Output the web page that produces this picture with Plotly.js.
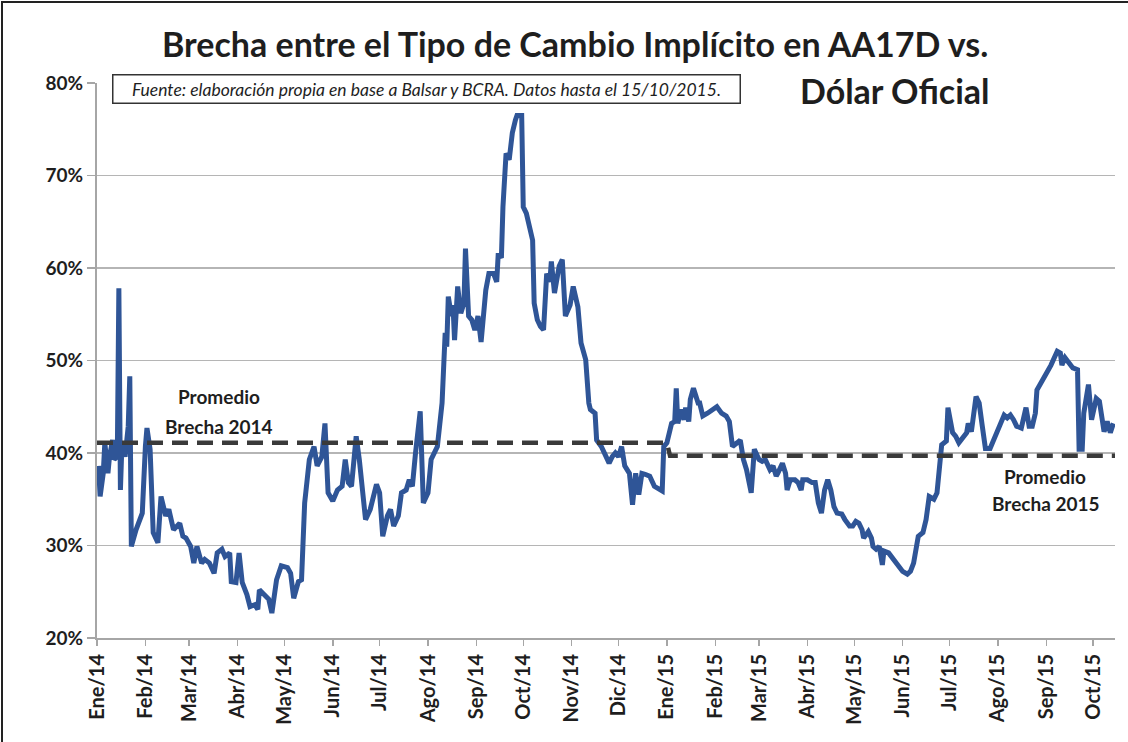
<!DOCTYPE html>
<html>
<head>
<meta charset="utf-8">
<script src="https://cdn.plot.ly/plotly-3.0.1.min.js"></script>
<style>
  html, body { margin: 0; padding: 0; background: #fff; }
  #wrap { position: relative; width: 1128px; height: 742px; }
  #chart { width: 1128px; height: 742px; }
  #frame { position: absolute; left: 1px; top: 1px; width: 1127px; height: 741px;
           border-left: 2px solid #222; border-top: 2px solid #222; box-sizing: border-box; pointer-events: none; }
</style>
</head>
<body>
<div id="wrap"><div id="chart"></div><div id="frame"></div></div>
<script>
// ---- Data ----
const fechas = [
"2014-01-02","2014-01-03","2014-01-05","2014-01-06","2014-01-08","2014-01-09","2014-01-11","2014-01-12","2014-01-14","2014-01-15",
"2014-01-16","2014-01-17","2014-01-19","2014-01-21","2014-01-22","2014-01-23","2014-01-26","2014-01-30","2014-02-01","2014-02-02",
"2014-02-04","2014-02-06","2014-02-09","2014-02-11","2014-02-14","2014-02-16","2014-02-19","2014-02-21","2014-02-23","2014-02-25",
"2014-02-27","2014-03-02","2014-03-04","2014-03-06","2014-03-09","2014-03-11","2014-03-14","2014-03-17","2014-03-19","2014-03-22",
"2014-03-24","2014-03-27","2014-03-28","2014-03-31","2014-04-02","2014-04-04","2014-04-07","2014-04-09","2014-04-12","2014-04-14",
"2014-04-15","2014-04-18","2014-04-21","2014-04-23","2014-04-26","2014-04-29","2014-05-03","2014-05-05","2014-05-07","2014-05-10",
"2014-05-12","2014-05-14","2014-05-17","2014-05-20","2014-05-22","2014-05-25","2014-05-27","2014-05-29","2014-06-01","2014-06-04",
"2014-06-07","2014-06-09","2014-06-11","2014-06-13","2014-06-16","2014-06-18","2014-06-22","2014-06-25","2014-06-29","2014-07-01",
"2014-07-03","2014-07-06","2014-07-08","2014-07-10","2014-07-13","2014-07-15","2014-07-18","2014-07-20","2014-07-22","2014-07-24",
"2014-07-27","2014-07-29","2014-08-01","2014-08-03","2014-08-07","2014-08-10","2014-08-12","2014-08-13","2014-08-14","2014-08-16",
"2014-08-17","2014-08-18","2014-08-20","2014-08-22","2014-08-24","2014-08-25","2014-08-27","2014-08-29","2014-08-31","2014-09-02",
"2014-09-04","2014-09-07","2014-09-09","2014-09-12","2014-09-14","2014-09-15","2014-09-17","2014-09-18","2014-09-20","2014-09-22",
"2014-09-24","2014-09-26","2014-09-27","2014-09-30","2014-10-01","2014-10-03","2014-10-07","2014-10-08","2014-10-10","2014-10-12",
"2014-10-14","2014-10-16","2014-10-18","2014-10-19","2014-10-21","2014-10-24","2014-10-26","2014-10-28","2014-10-31","2014-11-02",
"2014-11-05","2014-11-07","2014-11-10","2014-11-12","2014-11-13","2014-11-16","2014-11-17","2014-11-20","2014-11-22","2014-11-25",
"2014-11-27","2014-11-29","2014-12-01","2014-12-03","2014-12-05","2014-12-08","2014-12-10","2014-12-12","2014-12-14","2014-12-16",
"2014-12-18","2014-12-21","2014-12-24","2014-12-27","2014-12-29","2014-12-30","2015-01-01","2015-01-03","2015-01-04","2015-01-06",
"2015-01-07","2015-01-08","2015-01-10","2015-01-12","2015-01-13","2015-01-15","2015-01-16","2015-01-18","2015-01-21","2015-01-22",
"2015-01-24","2015-01-27","2015-01-30","2015-02-02","2015-02-05","2015-02-08","2015-02-10","2015-02-12","2015-02-15","2015-02-17",
"2015-02-19","2015-02-21","2015-02-24","2015-02-26","2015-03-01","2015-03-03","2015-03-05","2015-03-08","2015-03-10","2015-03-12",
"2015-03-13","2015-03-16","2015-03-18","2015-03-19","2015-03-21","2015-03-24","2015-03-26","2015-03-28","2015-03-29","2015-04-01",
"2015-04-04","2015-04-06","2015-04-08","2015-04-10","2015-04-12","2015-04-14","2015-04-16","2015-04-18","2015-04-20","2015-04-23",
"2015-04-25","2015-04-28","2015-04-30","2015-05-02","2015-05-04","2015-05-06","2015-05-07","2015-05-10","2015-05-12","2015-05-13",
"2015-05-15","2015-05-17","2015-05-19","2015-05-20","2015-05-23","2015-05-26","2015-05-29","2015-06-01","2015-06-04","2015-06-06",
"2015-06-08","2015-06-11","2015-06-14","2015-06-16","2015-06-18","2015-06-21","2015-06-23","2015-06-25","2015-06-26","2015-06-29",
"2015-06-30","2015-07-03","2015-07-05","2015-07-07","2015-07-10","2015-07-12","2015-07-13","2015-07-15","2015-07-18","2015-07-20",
"2015-07-22","2015-07-24","2015-07-27","2015-07-30","2015-08-02","2015-08-05","2015-08-07","2015-08-09","2015-08-11","2015-08-13",
"2015-08-16","2015-08-19","2015-08-21","2015-08-23","2015-08-25","2015-08-26","2015-08-28","2015-08-30","2015-09-01","2015-09-04",
"2015-09-06","2015-09-08","2015-09-10","2015-09-11","2015-09-13","2015-09-16","2015-09-18","2015-09-21","2015-09-22","2015-09-24",
"2015-09-25","2015-09-28","2015-09-30","2015-10-03","2015-10-05","2015-10-08","2015-10-10","2015-10-12","2015-10-14"
];
const brecha = [
38.6,35.3,37.8,41.1,37.8,39.6,41.4,39.3,39.6,57.8,
36.0,41.1,39.6,42.9,48.3,29.9,31.7,33.5,40.7,42.7,
40.4,31.4,30.3,35.3,33.2,33.9,31.7,32.1,32.4,31.0,
30.8,29.9,28.1,29.9,28.1,28.5,28.1,27.0,29.2,29.6,
28.8,29.2,26.1,26.0,29.2,26.0,24.7,23.4,23.6,23.1,
25.2,24.7,24.2,22.7,26.3,27.8,27.6,27.0,24.3,26.1,
26.3,34.6,39.3,40.7,38.6,39.6,43.2,35.7,34.8,36.0,
36.4,39.3,36.8,36.4,41.8,39.3,32.8,33.9,36.6,35.7,
31.0,33.2,33.9,32.1,33.2,35.7,36.0,37.1,36.4,40.0,
44.5,34.6,35.7,39.3,40.7,45.4,53.0,51.5,56.9,54.8,
56.0,52.2,58.0,55.1,56.2,62.1,54.8,54.4,53.3,54.8,
52.0,57.6,59.4,59.4,58.5,61.6,61.1,66.6,72.4,71.7,
74.6,76.0,76.5,76.5,66.6,65.9,63.0,56.2,54.4,53.7,
53.3,59.4,58.5,60.7,57.3,60.2,60.9,54.8,56.0,58.0,
55.8,51.9,50.1,45.4,44.7,44.3,41.4,40.7,40.0,38.9,
39.6,40.0,39.6,40.7,38.6,37.8,34.4,37.8,35.5,37.8,
37.7,37.5,36.4,36.0,35.9,40.7,41.1,42.5,43.2,43.4,
47.0,43.2,44.7,43.6,44.9,43.4,45.8,47.0,45.4,45.4,
44.0,44.3,44.7,45.0,44.3,44.0,43.4,40.7,41.1,41.4,
39.3,38.2,35.7,40.4,39.3,39.1,39.3,38.2,38.6,37.5,
37.8,38.9,37.8,36.0,37.1,37.1,36.8,36.0,37.1,37.1,
36.8,36.8,34.6,33.5,36.0,37.1,36.0,34.2,33.5,33.4,
32.8,32.1,32.1,32.6,32.4,31.7,30.8,31.5,30.8,29.9,
29.6,29.9,27.9,29.4,29.2,28.5,27.8,27.2,26.9,27.2,
28.1,31.0,31.4,32.8,35.3,35.0,35.7,38.9,40.9,41.3,
44.9,42.2,41.8,41.1,41.8,42.2,43.2,42.3,46.1,45.4,
42.9,40.5,40.5,41.6,42.7,44.1,43.8,44.1,43.6,42.9,
42.7,44.9,42.9,42.9,44.3,46.8,47.4,47.9,48.6,49.5,
50.4,51.0,50.8,49.5,50.3,49.7,49.2,49.0,40.4,40.4,
44.3,47.4,43.6,45.9,45.6,42.3,43.4,42.2,43.2
];

// Average gap per year (dashed reference lines)
const promedioFechas = ["2014-01-01","2015-01-01","2015-01-03","2015-10-15"];
const promedioValores = [41.1, 41.1, 39.7, 39.7];

// Month ticks
const mesesTicks = ["2014-01-01","2014-02-01","2014-03-01","2014-04-01","2014-05-01","2014-06-01","2014-07-01","2014-08-01",
  "2014-09-01","2014-10-01","2014-11-01","2014-12-01","2015-01-01","2015-02-01","2015-03-01","2015-04-01","2015-05-01",
  "2015-06-01","2015-07-01","2015-08-01","2015-09-01","2015-10-01"];
const mesesLabels = ["Ene/14","Feb/14","Mar/14","Abr/14","May/14","Jun/14","Jul/14","Ago/14","Sep/14","Oct/14","Nov/14","Dic/14",
  "Ene/15","Feb/15","Mar/15","Abr/15","May/15","Jun/15","Jul/15","Ago/15","Sep/15","Oct/15"];
const yTicks = [20,30,40,50,60,70,80];

const FONT = "Lato, 'Open Sans', sans-serif";
const DARK = "#1e1e1e";

const traces = [
  { x: fechas, y: brecha, type: "scatter", mode: "lines",
    line: { color: "#2f5597", width: 5 }, hoverinfo: "x+y" },
  { x: promedioFechas, y: promedioValores, type: "scatter", mode: "lines",
    line: { color: "#3a3a3a", width: 4.5, dash: "16px,9px" }, hoverinfo: "skip" }
];

const boldFont = (size) => ({ family: FONT, size: size, color: DARK, weight: 700 });

const layout = {
  width: 1128, height: 742,
  margin: { l: 97, r: 13, t: 83, b: 104 },
  paper_bgcolor: "#fff", plot_bgcolor: "#fff",
  showlegend: false,
  xaxis: {
    type: "date", range: ["2014-01-01", "2015-10-15"],
    tickmode: "array", tickvals: mesesTicks, ticktext: mesesLabels,
    tickangle: -90, tickfont: boldFont(20),
    ticks: "outside", ticklen: 6, tickcolor: "#a6a6a6", tickwidth: 1.5,
    showline: true, linecolor: "#a6a6a6", linewidth: 2,
    showgrid: false, zeroline: false
  },
  yaxis: {
    range: [20, 80], tickmode: "array", tickvals: yTicks,
    ticktext: yTicks.map(v => v + "%"),
    tickfont: boldFont(19),
    ticks: "outside", ticklen: 8, tickcolor: "#a6a6a6", tickwidth: 1.5,
    showline: true, linecolor: "#a6a6a6", linewidth: 2,
    showgrid: true, gridcolor: "#b5b5b5", gridwidth: 1.5, zeroline: false
  },
  annotations: [
    { text: "Brecha entre el Tipo de Cambio Implícito en AA17D vs.", xref: "paper", yref: "paper",
      x: 0.4695, y: 1.0710, xanchor: "center", yanchor: "middle", showarrow: false, font: boldFont(34) },
    { text: "Dólar Oficial", xref: "paper", yref: "paper",
      x: 0.784, y: 0.9865, xanchor: "center", yanchor: "middle", showarrow: false,
      font: boldFont(34), bgcolor: "#fff", borderpad: 3 },
    { text: "Fuente: elaboración propia en base a Balsar y BCRA. Datos hasta el 15/10/2015.", xref: "paper", yref: "paper",
      x: 0.3232, y: 0.990, xanchor: "center", yanchor: "middle", showarrow: false,
      font: { family: FONT, size: 17.5, color: DARK, style: "italic" },
      bgcolor: "#fff", bordercolor: "#333", borderwidth: 1.5, borderpad: 3, width: 620 },
    { text: "Promedio", xref: "paper", yref: "paper", x: 0.1199, y: 0.4344,
      xanchor: "center", yanchor: "middle", showarrow: false, font: boldFont(19) },
    { text: "Brecha 2014", xref: "paper", yref: "paper", x: 0.1199, y: 0.3804,
      xanchor: "center", yanchor: "middle", showarrow: false, font: boldFont(19) },
    { text: "Promedio", xref: "paper", yref: "paper", x: 0.9312, y: 0.2905,
      xanchor: "center", yanchor: "middle", showarrow: false, font: boldFont(19) },
    { text: "Brecha 2015", xref: "paper", yref: "paper", x: 0.9322, y: 0.2419,
      xanchor: "center", yanchor: "middle", showarrow: false, font: boldFont(19) }
  ]
};

Plotly.newPlot("chart", traces, layout, { displayModeBar: false, staticPlot: true });
</script>
</body>
</html>
